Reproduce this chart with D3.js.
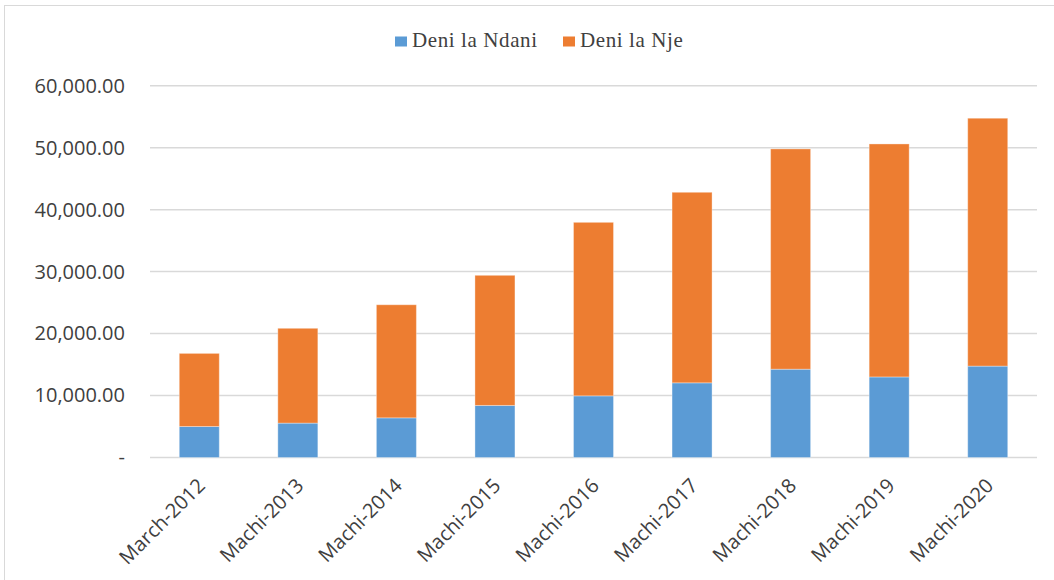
<!DOCTYPE html>
<html>
<head>
<meta charset="utf-8">
<script src="https://cdn.jsdelivr.net/npm/d3@7"></script>
<style>
  body { margin: 0; background: #fff; }
  text { fill: #404040; }
</style>
</head>
<body>
<div id="chart"></div>
<script>
// Data
const categories = ["March-2012", "Machi-2013", "Machi-2014", "Machi-2015", "Machi-2016",
  "Machi-2017", "Machi-2018", "Machi-2019", "Machi-2020"];
const deniNdani = [5000, 5550, 6400, 8400, 9950, 12050, 14250, 13000, 14750];
const deniNje = [11800, 15300, 18250, 21000, 28000, 30750, 35550, 37600, 40000];
const seriesNames = ["Deni la Ndani", "Deni la Nje"];
const yTicks = [0, 10000, 20000, 30000, 40000, 50000, 60000];

const W = 1054, H = 580;
const colors = { "Deni la Ndani": "#5b9bd5", "Deni la Nje": "#ed7d31" };

const svg = d3.select("#chart").append("svg")
  .attr("width", W)
  .attr("height", H);

// chart area border (only top + left visible in the crop)
svg.append("rect")
  .attr("x", 4.5).attr("y", 5.5)
  .attr("width", W + 10).attr("height", H + 10)
  .attr("fill", "#fff")
  .attr("stroke", "#d9d9d9");

const x = d3.scaleBand()
  .domain(categories)
  .range([150, 1037])
  .paddingInner(0.594)
  .paddingOuter(0.297);

const y = d3.scaleLinear()
  .domain([0, 60000])
  .range([457.5, 85.7]);

// gridlines
svg.append("g")
  .selectAll("line")
  .data(yTicks)
  .join("line")
  .attr("x1", 150).attr("x2", 1037)
  .attr("y1", d => y(d)).attr("y2", d => y(d))
  .attr("stroke", "#d9d9d9")
  .attr("stroke-width", 1.5);

// y axis labels
const fmt = d3.format(",.2f");
const yAxis = d3.axisLeft(y)
  .tickValues(yTicks)
  .tickSize(0)
  .tickPadding(0)
  .tickFormat(d => d === 0 ? "-" : fmt(d));

svg.append("g")
  .attr("transform", "translate(125,0)")
  .call(yAxis)
  .call(g => g.select(".domain").remove())
  .selectAll("text")
  .attr("font-family", "'Open Sans', sans-serif")
  .attr("font-size", 20)
  .attr("fill", "#404040");

// stacked bars
const rows = categories.map((c, i) => ({ cat: c, "Deni la Ndani": deniNdani[i], "Deni la Nje": deniNje[i] }));
const stacked = d3.stack().keys(seriesNames)(rows);

svg.append("g")
  .selectAll("g")
  .data(stacked)
  .join("g")
  .attr("fill", d => colors[d.key])
  .selectAll("rect")
  .data(d => d)
  .join("rect")
  .attr("x", d => x(d.data.cat))
  .attr("width", x.bandwidth())
  .attr("y", d => y(d[1]))
  .attr("height", d => y(d[0]) - y(d[1]))
  .attr("stroke", "rgba(255,255,255,0.35)")
  .attr("stroke-width", 1);

// x axis labels, rotated
svg.append("g")
  .selectAll("text")
  .data(categories)
  .join("text")
  .attr("transform", d => `translate(${x(d) + x.bandwidth() / 2 + 2},482) rotate(-45)`)
  .attr("text-anchor", "end")
  .attr("dy", "0.35em")
  .attr("font-family", "'Open Sans', sans-serif")
  .attr("font-size", 20)
  .attr("fill", "#000")
  .text(d => d);

// legend
const legendX = [395, 563];
const legend = svg.append("g")
  .selectAll("g")
  .data(seriesNames)
  .join("g")
  .attr("transform", (d, i) => `translate(${legendX[i]},0)`);

legend.append("rect")
  .attr("x", 0).attr("y", 36.5)
  .attr("width", 12).attr("height", 10)
  .attr("fill", d => colors[d]);

legend.append("text")
  .attr("x", 17).attr("y", 47)
  .attr("font-family", "'Liberation Serif', 'Times New Roman', serif")
  .attr("font-size", 21)
  .attr("letter-spacing", 0.6)
  .attr("fill", "#000")
  .text(d => d);
</script>
</body>
</html>
